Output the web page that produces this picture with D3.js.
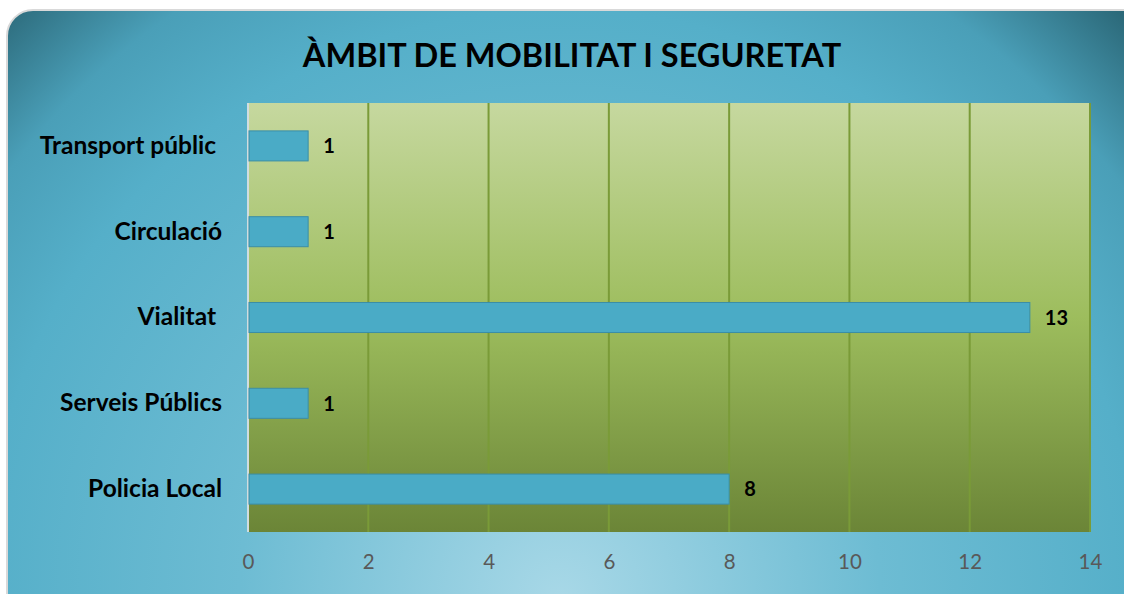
<!DOCTYPE html>
<html>
<head>
<meta charset="utf-8">
<script src="https://cdn.jsdelivr.net/npm/d3@7"></script>
<style>
  body { margin: 0; background: #fff; }
  svg { display: block; font-family: Lato, "Open Sans", sans-serif; }
</style>
</head>
<body>
<div id="chart"></div>
<script>
var categories = ["Transport públic ", "Circulació", "Vialitat ", "Serveis Públics", "Policia Local"],
    values = [1, 1, 13, 1, 8],
    ticks = [0, 2, 4, 6, 8, 10, 12, 14];

var W = 1124, H = 594,
    margin = { top: 103, right: 34, bottom: 62, left: 248 },
    width = W - margin.left - margin.right,
    height = H - margin.top - margin.bottom;

var svg = d3.select("#chart").append("svg")
    .attr("width", W)
    .attr("height", H);

var defs = svg.append("defs");

var bg = defs.append("radialGradient")
    .attr("id", "bg")
    .attr("gradientUnits", "userSpaceOnUse")
    .attr("cx", 560).attr("cy", 580).attr("r", 800)
    .attr("fx", 560).attr("fy", 600);
bg.append("stop").attr("offset", "0").attr("stop-color", "#a8d8e7");
bg.append("stop").attr("offset", "0.4").attr("stop-color", "#6dbcd3");
bg.append("stop").attr("offset", "0.72").attr("stop-color", "#55afc9");
bg.append("stop").attr("offset", "0.86").attr("stop-color", "#4a9fb8");
bg.append("stop").attr("offset", "1").attr("stop-color", "#2b6878");

var plotGrad = defs.append("linearGradient")
    .attr("id", "plotbg")
    .attr("x1", 0).attr("y1", 0).attr("x2", 0).attr("y2", 1);
plotGrad.append("stop").attr("offset", "0").attr("stop-color", "#c6d89f");
plotGrad.append("stop").attr("offset", "0.5").attr("stop-color", "#9dbd5d");
plotGrad.append("stop").attr("offset", "1").attr("stop-color", "#6b8537");

// card
svg.append("rect")
    .attr("x", 7).attr("y", 10)
    .attr("width", W + 20).attr("height", H + 20)
    .attr("rx", 26)
    .attr("fill", "url(#bg)")
    .attr("stroke", "#d9d9d9")
    .attr("stroke-width", 2);

svg.append("text")
    .attr("x", 572)
    .attr("y", 67)
    .attr("text-anchor", "middle")
    .attr("font-size", 32.5)
    .attr("font-weight", "bold")
    .attr("fill", "#000")
    .text("ÀMBIT DE MOBILITAT I SEGURETAT");

var g = svg.append("g")
    .attr("transform", "translate(" + margin.left + "," + margin.top + ")");

var x = d3.scaleLinear()
    .domain([0, 14])
    .range([0, width]);

var y = d3.scaleBand()
    .domain(categories)
    .range([0, height])
    .paddingInner(0.65)
    .paddingOuter(0.325);

g.append("rect")
    .attr("width", width)
    .attr("height", height)
    .attr("fill", "url(#plotbg)");

g.selectAll(".grid")
    .data(ticks.slice(1))
    .enter().append("line")
    .attr("class", "grid")
    .attr("x1", function (d) { return x(d); })
    .attr("x2", function (d) { return x(d); })
    .attr("y1", 0)
    .attr("y2", height)
    .attr("stroke", "#7a9b38")
    .attr("stroke-width", 2);

g.append("line")
    .attr("x1", 0).attr("x2", 0)
    .attr("y1", 0).attr("y2", height)
    .attr("stroke", "#d0dde0")
    .attr("stroke-width", 2);

var data = categories.map(function (c, i) { return { cat: c, val: values[i] }; });

g.selectAll(".bar")
    .data(data)
    .enter().append("rect")
    .attr("class", "bar")
    .attr("x", 1)
    .attr("y", function (d) { return y(d.cat); })
    .attr("width", function (d) { return x(d.val) - 1; })
    .attr("height", y.bandwidth())
    .attr("fill", "#4aabc6")
    .attr("stroke", "#3b8ea6")
    .attr("stroke-width", 1);

g.selectAll(".label")
    .data(data)
    .enter().append("text")
    .attr("class", "label")
    .attr("x", function (d) { return x(d.val) + 15; })
    .attr("y", function (d) { return y(d.cat) + y.bandwidth() / 2; })
    .attr("dy", "0.36em")
    .attr("font-size", 20)
    .attr("font-weight", "bold")
    .attr("fill", "#000")
    .text(function (d) { return d.val; });

var yAxis = g.append("g")
    .call(d3.axisLeft(y).tickSize(0).tickPadding(26));
yAxis.select(".domain").remove();
yAxis.selectAll("text")
    .attr("font-size", 24.5)
    .attr("font-weight", "bold")
    .attr("fill", "#000")
    .style("white-space", "pre")
    .attr("font-family", "Lato, sans-serif");

var xAxis = g.append("g")
    .attr("transform", "translate(0," + height + ")")
    .call(d3.axisBottom(x).tickValues(ticks).tickSize(0).tickPadding(22));
xAxis.select(".domain").remove();
xAxis.selectAll("text")
    .attr("font-size", 20.5)
    .attr("fill", "#595959")
    .attr("font-family", "Lato, sans-serif");
</script>
</body>
</html>
